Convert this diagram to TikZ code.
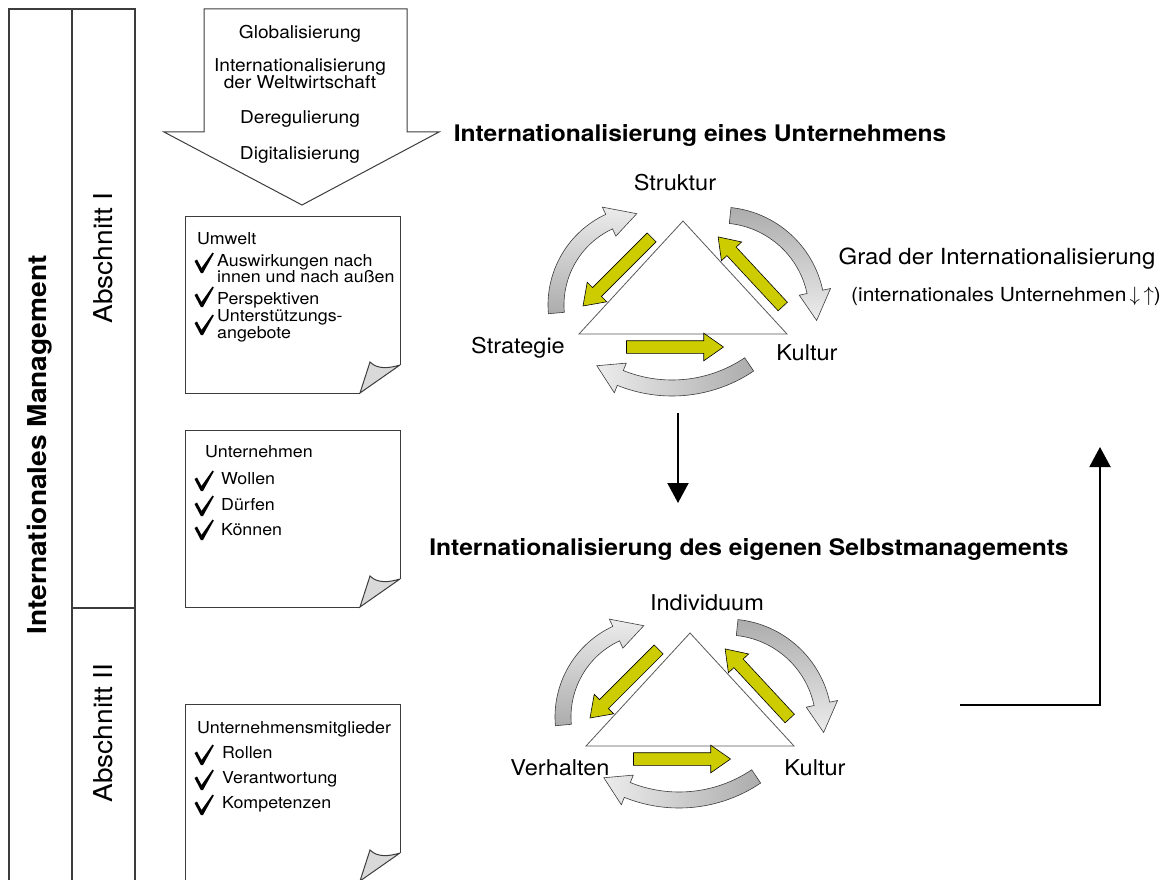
\documentclass[tikz,border=0pt]{standalone}
\usepackage{fontspec}
\setmainfont{TeX Gyre Heros}[FakeStretch=1.08]
\usetikzlibrary{arrows.meta,shapes.arrows}

\definecolor{gelb}{RGB}{204,204,0}
\definecolor{rand}{RGB}{60,60,60}

\newcommand{\schrift}[1]{\fontsize{#1}{#1}\selectfont}

\tikzset{
  spalte/.style={draw=rand, line width=1.2pt},
  blatt/.style={draw=rand, line width=1pt},
  pfeiltext/.style={anchor=base, inner sep=0pt, font=\schrift{17.7}},
  eintrag/.style={anchor=base west, inner sep=0pt, font=\schrift{16.5}},
  senkrecht/.style={rotate=90, inner sep=0pt},
  ecke/.style={anchor=base, inner sep=0pt, font=\schrift{21.8}},
  kopf/.style={anchor=base, inner sep=0pt, font=\schrift{22.8}\bfseries},
  pfeil/.style={line width=2pt, -{Triangle[length=20pt,width=21pt]}},
  gelbpfeil/.style={single arrow, draw=black, line width=0.6pt, fill=gelb,
    inner sep=6pt, minimum width=0pt, single arrow head extend=7.5pt,
    single arrow tip angle=70, minimum height=#1, midway, sloped, allow upside down},
  pics/haken/.style={code={
    \fill (-7.5,-12) -- (-5,-13.5) -- (-0.5,-5) -- (10.5,-20.5) -- (11.8,-19.5) -- (1,0) -- (-1.2,0) -- cycle;
  }},
  pics/notiz/.style={code={
    \draw[blatt, fill=white] (175,177) -- (0,177) -- (0,0) -- (215,0) -- (215,149);
    \draw[blatt, fill=gray!30] (215,149) -- (175,177) -- (185,146) .. controls (193,154) and (205,152) .. (215,149);
  }},
  pics/graupfeil/.style n args={5}{code={
    \draw[draw=rand, line width=0.6pt, #5] ({#2}:{#1-8}) -- ({#2}:{#1+8})
      arc[start angle=#2, end angle=#3, radius={#1+8}] -- ({#3}:{#1+16}) -- ({#4}:{#1})
      -- ({#3}:{#1-16}) -- ({#3}:{#1-8}) arc[start angle=#3, end angle=#2, radius={#1-8}] -- cycle;
  }},
  pics/dreieck/.style={code={
    \pic at (-35,84) {graupfeil={92}{175}{245}{263}{top color=gray!15, bottom color=gray!65}};
    \pic at (37,91) {graupfeil={97}{276}{348}{365}{top color=gray!65, bottom color=gray!15}};
    \pic at (-11,29) {graupfeil={138}{56}{112}{123}{left color=gray!15, right color=gray!65}};
    \draw[draw=gray!70!black, line width=0.8pt, fill=white] (0,0) coordinate (-spitze)
      -- (-104,113) coordinate (-links) -- (104,113) coordinate (-rechts) -- cycle;
    \path (-28,13) -- (-97,82) node[gelbpfeil=97pt] (-gl) {};
    \path (103,89) -- (38,19) node[gelbpfeil=95pt] (-gr) {};
    \path (-61,126) -- (36,126) node[gelbpfeil=97pt] (-gu) {};
  }},
}

\begin{document}
\begin{tikzpicture}[x=1pt, y=-1pt]
\useasboundingbox (0,0) rectangle (1167,880);
% Spalten links
\draw[spalte] (9,890) -- (9,9) -- (135,9) -- (135,890);
\draw[spalte] (72,9) -- (72,890);
\draw[spalte] (72,608) -- (135,608);
\node[senkrecht, font=\schrift{26}\bfseries] (im) at (40,445) {Internationales Management};
\node[senkrecht, font=\schrift{26}] (ab1) at (103,258) {Abschnitt I};
\node[senkrecht, font=\schrift{26}] (ab2) at (103,733) {Abschnitt II};

% Pfeil oben
\draw[blatt, fill=white] (204,9) -- (407,9) -- (407,132) -- (439,132) -- (302,205) -- (164,132) -- (204,132) -- cycle;
\node[pfeiltext] (t1) at (300,39) {Globalisierung};
\node[pfeiltext] (t2) at (300,72) {Internationalisierung};
\node[pfeiltext] (t3) at (300,89) {der Weltwirtschaft};
\node[pfeiltext] (t4) at (300,124) {Deregulierung};
\node[pfeiltext] (t5) at (300,159) {Digitalisierung};

% Blaetter
\pic at (185,216) {notiz};
\pic at (185,430) {notiz};
\pic at (185,704) {notiz};

\node[eintrag] (umwelt) at (197,244) {Umwelt};
\pic at (202,273) {haken};
\node[eintrag] (u1) at (217,266) {Auswirkungen nach};
\node[eintrag] (u2) at (217,282) {innen und nach außen};
\pic at (202,307) {haken};
\node[eintrag] (u3) at (217,304) {Perspektiven};
\pic at (202,335) {haken};
\node[eintrag] (u4) at (217,321) {Unterstützungs-};
\node[eintrag] (u5) at (217,338) {angebote};

\node[eintrag] (unternehmen) at (205,457) {Unternehmen};
\pic at (202,491) {haken};
\node[eintrag] (w1) at (221,484) {Wollen};
\pic at (202,516) {haken};
\node[eintrag] (w2) at (221,510) {Dürfen};
\pic at (202,540) {haken};
\node[eintrag] (w3) at (221,535) {Können};

\node[eintrag] (mitglieder) at (197,733) {Unternehmensmitglieder};
\pic at (202,765) {haken};
\node[eintrag] (m1) at (222,758) {Rollen};
\pic at (202,790) {haken};
\node[eintrag] (m2) at (222,783) {Verantwortung};
\pic at (202,815) {haken};
\node[eintrag] (m3) at (222,808) {Kompetenzen};

% Dreiecke
\node[kopf] (kopf1) at (700,142) {Internationalisierung eines Unternehmens};
\pic (d1) at (683,221) {dreieck};
\node[ecke] (struktur) at (675,190) {Struktur};
\node[ecke] (strategie) at (518,353) {Strategie};
\node[ecke] (kultur1) at (807,360) {Kultur};

\node[kopf] (kopf2) at (749,555) {Internationalisierung des eigenen Selbstmanagements};
\pic (d2) at (690,633) {dreieck};
\node[ecke] (individuum) at (707,610) {Individuum};
\node[ecke] (verhalten) at (560,775) {Verhalten};
\node[ecke] (kultur2) at (815,775) {Kultur};

\node[ecke, font=\schrift{22.2}] (grad) at (997,264) {Grad der Internationalisierung};
\node[anchor=base west, inner sep=0pt, font=\schrift{19.4}] (intu) at (851,301) {(internationales Unternehmen\,$\downarrow\,\uparrow$)};

% Verbindungen
\coordinate (runter1) at (678,413);
\coordinate (runter2) at (678,503);
\draw[pfeil] (runter1) -- (runter2);
\coordinate (rueck1) at (960,705);
\coordinate (rueck2) at (1100,447);
\draw[pfeil] (rueck1) -| (rueck2);
\end{tikzpicture}
\end{document}
